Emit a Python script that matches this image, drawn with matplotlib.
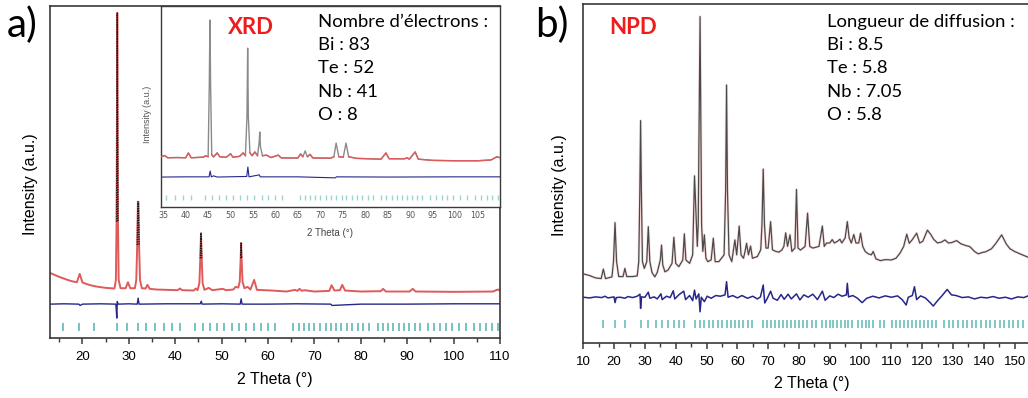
import matplotlib.pyplot as plt
import numpy as np

W, H = 1028, 398


def fx(px):
    return px / W


def fy(py):
    return 1 - py / H


# ---------------- panel a : XRD refinement ----------------
# observed / calculated profile (2theta, intensity a.u.)
xrd_tth = [13.0, 14.0, 15.0, 16.0, 17.0, 18.0, 18.8, 19.4, 20.0, 21.0, 22.0, 23.0,
           24.0, 25.0, 26.0, 26.9, 27.2, 27.35, 27.45, 27.5, 27.55, 27.65, 27.8,
           28.2, 29.3, 29.8, 30.3, 31.3, 31.6, 31.8, 31.95, 32.05, 32.2, 32.4,
           32.8, 33.6, 34.0, 34.5, 36.0, 40.5, 41.0, 41.5, 44.0, 44.4, 44.8,
           45.2, 45.4, 45.55, 45.7, 45.9, 46.3, 47.2, 48.0, 50.2, 51.0, 52.5,
           53.0, 53.6, 53.9, 54.1, 54.2, 54.3, 54.5, 54.9, 55.6, 56.2, 57.0,
           57.6, 60.8, 64.0, 65.8, 66.3, 66.8, 67.3, 67.8, 70.0, 73.2, 73.7,
           74.3, 75.5, 76.0, 76.6, 80.0, 84.3, 84.8, 85.4, 90.5, 91.2, 91.8,
           100.0, 108.5, 109.5, 110.0]
xrd_int = [19.6, 19.0, 18.4, 17.9, 17.4, 17.0, 16.8, 19.3, 16.7, 16.2, 15.8, 15.5,
           15.3, 15.1, 15.0, 14.9, 17.5, 35.0, 75.0, 97.9, 75.0, 35.0, 17.5,
           15.0, 15.0, 16.8, 15.0, 15.0, 17.5, 28.0, 41.0, 41.0, 28.0, 17.5,
           15.0, 14.9, 16.0, 14.8, 14.6, 14.4, 14.9, 14.4, 14.3, 14.9, 14.4,
           16.5, 24.0, 31.6, 24.0, 16.5, 14.5, 15.1, 14.4, 14.8, 14.4, 14.6,
           15.4, 15.2, 17.0, 24.0, 28.6, 24.0, 17.0, 15.0, 15.4, 14.6, 17.5,
           14.5, 14.3, 14.0, 14.5, 14.2, 14.8, 14.2, 14.4, 14.0, 14.2, 15.9,
           14.3, 14.4, 16.0, 14.3, 14.0, 14.1, 14.8, 14.0, 14.0, 14.8, 14.0,
           13.9, 14.0, 14.6, 14.3]
# difference curve
xrd_diff_tth = [13.0, 16.0, 19.2, 19.5, 20.0, 24.0, 27.2, 27.4, 27.5, 27.7, 30.0,
                31.8, 32.0, 32.2, 38.0, 45.4, 45.6, 45.8, 50.0, 54.0, 54.2, 54.4,
                60.0, 66.0, 73.5, 73.8, 80.0, 90.0, 100.0, 110.0]
xrd_diff = [10.2, 10.3, 10.2, 9.8, 10.2, 10.3, 10.2, 6.0, 11.0, 10.2, 10.3,
            10.2, 12.0, 10.2, 10.3, 10.3, 11.1, 10.2, 10.3, 10.2, 11.8, 10.2,
            10.2, 10.3, 10.2, 9.8, 10.2, 10.2, 10.3, 10.3]
# Bragg reflection positions
xrd_bragg = [15.7, 19.3, 22.4, 27.4, 29.7, 31.9, 33.8, 35.7, 37.6, 39.4, 41.1,
             44.3, 45.9, 47.5, 49.0, 50.6, 52.2, 53.7, 55.3, 56.9, 58.4, 60.0, 61.5,
             65.4, 66.6, 67.7, 68.9, 70.0, 71.2, 72.4, 73.5, 74.7, 75.8, 77.0, 78.2,
             79.3, 80.5, 81.7, 83.6, 84.7, 85.9, 87.0, 88.2, 89.3, 90.4, 91.6, 92.7,
             94.4, 95.7, 97.0, 98.3, 99.6, 101.2, 102.6, 104.4, 105.7, 107.0, 108.3,
             109.6]

# inset (zoom 35-110)
ins_tth = [34.5, 35.3, 36.0, 38.0, 40.0, 40.6, 41.2, 44.0, 44.4, 45.0, 45.25,
           45.4, 45.55, 45.8, 46.2, 47.0, 47.6, 49.0, 50.0, 50.5, 52.0, 52.8,
           53.3, 53.65, 53.8, 53.95, 54.3, 54.8, 55.4, 56.0, 56.35, 56.5, 56.65,
           57.1, 58.0, 59.0, 60.6, 61.3, 65.0, 65.6, 66.1, 66.6, 67.1, 67.7,
           68.3, 72.3, 73.0, 73.5, 74.1, 75.1, 75.7, 76.3, 78.0, 83.5, 84.6,
           85.3, 88.8, 89.3, 89.8, 91.1, 91.8, 95.0, 100.0, 105.0, 108.0, 109.3,
           110.0]
ins_int = [25.0, 25.6, 24.5, 24.6, 24.5, 26.9, 24.5, 24.8, 25.5, 25.0, 60.0,
           93.0, 60.0, 26.0, 24.9, 26.9, 25.0, 24.7, 26.5, 24.8, 25.2, 26.9,
           25.5, 45.0, 79.0, 45.0, 27.0, 25.5, 27.4, 25.5, 32.0, 37.3, 30.0,
           25.5, 25.8, 24.6, 25.8, 24.4, 24.4, 26.4, 25.0, 27.9, 25.0, 26.2,
           24.4, 24.3, 25.0, 31.8, 25.0, 24.8, 31.8, 25.0, 24.2, 23.8, 26.9,
           24.0, 24.0, 24.5, 23.8, 27.4, 23.8, 23.2, 23.0, 23.0, 23.4, 25.0,
           24.5]
ins_diff_tth = [34.5, 40.0, 45.2, 45.45, 45.7, 46.2, 47.0, 53.6, 53.85, 54.1,
                56.4, 56.6, 65.0, 73.3, 73.6, 85.0, 100.0, 110.0]
ins_diff = [14.9, 15.0, 15.0, 17.9, 15.0, 15.5, 14.9, 15.2, 19.9, 15.0,
            16.0, 15.0, 15.0, 14.5, 15.0, 14.9, 15.0, 15.0]

xrd_elements = ["Bi", "Te", "Nb", "O"]
xrd_electrons = ["83", "52", "41", "8"]

# ---------------- panel b : NPD refinement ----------------
npd_tth = [10.0, 12.0, 14.0, 15.8, 16.5, 17.2, 19.3, 19.8, 20.3, 20.8, 21.5,
           22.9, 23.5, 24.1, 26.0, 27.5, 28.0, 28.35, 28.6, 28.85, 29.2, 29.8,
           30.6, 31.1, 31.6, 32.3, 33.2, 34.0, 35.0, 35.4, 35.8, 36.5, 37.5,
           38.8, 39.4, 40.0, 41.0, 42.3, 42.8, 43.3, 44.5, 45.5, 46.1, 47.0,
           47.3, 47.9, 48.4, 48.8, 49.3, 49.8, 50.4, 51.5, 52.2, 52.8, 54.0,
           55.7, 56.2, 56.5, 56.8, 57.3, 58.2, 59.2, 59.8, 60.6, 61.2, 62.0,
           62.5, 63.0, 63.6, 64.3, 64.9, 66.5, 67.6, 68.0, 68.4, 68.8, 69.3,
           70.0, 70.8, 71.4, 72.5, 73.5, 74.5, 75.1, 75.7, 76.3, 77.1, 77.7,
           78.7, 79.2, 79.7, 80.5, 82.0, 82.8, 83.5, 84.5, 86.5, 87.6, 88.2,
           89.0, 90.0, 90.8, 91.5, 92.5, 93.3, 93.9, 95.0, 95.7, 96.3, 97.0,
           97.8, 98.5, 99.4, 100.0, 100.7, 101.5, 102.5, 103.5, 104.1, 105.0,
           106.5, 108.0, 110.0, 111.5, 112.8, 114.0, 115.0, 115.8, 116.8, 118.2,
           119.2, 120.2, 121.7, 122.8, 123.8, 125.0, 126.3, 127.4, 128.5, 129.5,
           131.2, 132.5, 134.0, 135.5, 137.0, 138.2, 139.5, 140.6, 142.5, 144.0,
           145.8, 147.3, 148.5, 150.0, 152.0, 154.4]
npd_int = [20.4, 19.9, 19.2, 19.0, 21.8, 19.0, 19.5, 24.0, 35.5, 24.0, 19.6,
           19.6, 22.0, 19.6, 19.6, 19.8, 24.0, 45.0, 65.6, 45.0, 24.0, 22.0,
           24.0, 34.3, 24.0, 20.8, 19.5, 20.8, 24.5, 28.9, 23.0, 21.0, 21.5,
           23.5, 31.2, 23.5, 22.5, 24.5, 32.2, 24.5, 23.5, 26.0, 49.3, 28.5,
           35.0, 96.3, 35.0, 27.0, 31.9, 25.0, 24.0, 24.5, 30.9, 24.0, 24.0,
           26.0, 45.0, 76.1, 45.0, 26.0, 24.0, 30.4, 26.0, 34.5, 26.0, 25.0,
           27.0, 29.4, 26.0, 28.6, 25.0, 25.5, 27.5, 35.0, 51.3, 35.0, 28.0,
           28.0, 35.8, 27.5, 27.0, 26.8, 27.5, 28.5, 32.5, 28.5, 31.9, 27.0,
           28.0, 45.3, 28.0, 27.4, 28.5, 38.3, 28.5, 28.0, 28.5, 34.5, 28.5,
           29.5, 29.5, 30.5, 29.5, 30.0, 30.6, 29.5, 31.0, 35.8, 31.0, 29.5,
           32.0, 29.5, 29.5, 32.4, 28.5, 27.0, 26.3, 26.0, 27.0, 24.8,
           24.3, 24.6, 24.5, 25.0, 26.5, 28.5, 32.1, 29.4, 30.5, 32.4,
           29.5, 30.0, 33.3, 32.0, 30.5, 29.5, 29.8, 30.4, 29.5, 29.6,
           30.2, 29.3, 28.8, 28.4, 27.0, 26.3, 26.7, 26.9, 27.8, 29.5,
           31.9, 29.2, 27.8, 27.0, 26.2, 25.3]
npd_diff_tth = [10, 12, 14, 16, 17, 18, 20.0, 20.3, 20.7, 22, 23.5, 24.5, 26,
                27.5, 28.4, 28.6, 28.9, 30, 31.1, 31.6, 33, 34, 35.2, 35.6, 37,
                38.2, 39.2, 39.7, 41, 42.6, 43.2, 44.5, 45.5, 46.1, 46.6, 47.5,
                47.9, 48.3, 49.3, 50.2, 51.5, 53, 54.5, 56.0, 56.5, 57.0, 58.5,
                60, 61.5, 63.3, 65, 66.5, 67.5, 68.4, 68.9, 69.8, 70.8, 71.6, 73,
                74.2, 75.2, 76.5, 77.5, 79.2, 80.3, 81.6, 83, 84.5, 86, 87.6, 88.5,
                90, 91.3, 92.7, 94, 95.4, 95.7, 96.1, 97.5, 99, 100.5, 102, 104,
                106, 108, 110, 112, 113.5, 114.8, 115.5, 116.8, 117.5, 118.2, 119.5,
                121, 122.5, 123.6, 125, 126.5, 128.1, 129.5, 131, 133, 135, 137,
                139, 141, 143, 145, 147, 149, 151, 153, 154.4]
npd_diff = [13.5, 13.3, 13.6, 13.4, 13.8, 13.3, 13.6, 11.9, 13.4, 13.5, 13.2, 13.7, 13.4,
            13.8, 14.4, 10.2, 13.6, 13.5, 15.0, 13.2, 13.6, 13.0, 14.5, 12.8, 13.8,
            13.4, 15.4, 13.0, 14.2, 15.3, 12.8, 14.0, 12.5, 15.6, 13.0, 14.5,
            9.2, 13.5, 12.2, 13.8, 13.2, 14.0, 13.8, 14.2, 18.1, 13.5, 14.0,
            13.3, 14.0, 13.2, 13.8, 13.0, 13.6, 17.1, 11.8, 13.3, 15.3, 13.2, 12.6,
            14.3, 12.9, 14.4, 13.0, 14.5, 12.7, 14.2, 13.5, 14.4, 12.8, 15.3, 12.6,
            13.9, 13.4, 14.4, 13.8, 14.2, 17.6, 13.6, 14.0, 13.2, 11.9, 13.2, 13.8,
            13.3, 13.9, 13.5, 13.9, 12.8, 11.2, 13.5, 14.0, 16.6, 12.8, 13.9,
            13.3, 12.0, 10.9, 12.5, 14.0, 15.8, 14.2, 14.0, 13.4, 13.6, 13.0,
            13.5, 13.3, 13.7, 13.2, 13.5, 13.0, 13.6, 13.4, 13.9]
npd_bragg = [16.5, 20.3, 23.5, 28.6, 31.1, 33.5, 35.4, 37.4, 39.4, 41.2, 42.8,
             46.1, 47.9, 49.3, 50.7, 52.2, 53.6, 55.1, 56.5, 57.9, 59.2, 60.6, 61.9,
             63.3, 64.7, 68.4, 69.7, 71.0, 72.3, 73.6, 74.9, 76.2, 77.5, 78.8, 80.1,
             81.4, 82.7, 84.1, 85.5, 87.6, 88.8, 90.0, 91.2, 92.4, 93.6, 94.8, 96.0,
             97.2, 99.3, 100.5, 101.7, 102.9, 104.1, 106.2, 107.6, 110.1, 111.4,
             112.8, 114.1, 115.4, 116.7, 118.0, 119.4, 120.7, 122.0, 123.3, 124.6,
             127.1, 128.6, 130.1, 131.6, 133.1, 134.6, 136.1, 137.6, 139.1, 140.6,
             142.1, 143.6, 145.1, 146.6, 148.1, 149.6, 151.1, 152.6]

npd_elements = ["Bi", "Te", "Nb", "O"]
npd_lengths = ["8.5", "5.8", "7.05", "5.8"]

RED = '#e05a5a'
BLUE = '#27278a'
TEAL = '#5fb8b4'
SPINE = '#3a3a3a'
AXFONT = 'Liberation Sans'
TXTFONT = 'Lato'

fig = plt.figure(figsize=(W / 100, H / 100), dpi=100)


def style_axis(ax, xmax, ticks):
    ax.set_yticks([])
    ax.set_xticks(ticks)
    ax.set_xticks(np.arange(15, xmax, 10), minor=True)
    ax.tick_params(axis='x', which='major', direction='out', length=4.5, width=1.1,
                   labelsize=9.5, pad=5, color=SPINE)
    ax.tick_params(axis='x', which='minor', direction='out', length=3, width=1.0,
                   color=SPINE)
    for lab in ax.get_xticklabels():
        lab.set_fontfamily(AXFONT)
    for sp in ax.spines.values():
        sp.set_color(SPINE)
        sp.set_linewidth(1.2)


# ---- panel a main ----
ax_a = fig.add_axes([fx(50), fy(338), fx(500) - fx(50), fy(6) - fy(338)])
ax_a.plot(xrd_tth, xrd_int, color=RED, lw=1.4, zorder=2)
obs_a = np.ma.masked_less(np.array(xrd_int), 21)
ax_a.plot(xrd_tth, obs_a, color='#1a1a1a', lw=1.0, ls=(0, (1, 0.7)), zorder=3)
ax_a.plot(xrd_diff_tth, xrd_diff, color=BLUE, lw=1.0)
ax_a.vlines(xrd_bragg, 2.1, 4.5, color=TEAL, lw=1.2)
ax_a.set_xlim(13, 110)
ax_a.set_ylim(0, 100)
style_axis(ax_a, 110, np.arange(20, 111, 10))
ax_a.set_xlabel('2 Theta (°)', fontsize=11.5, family=AXFONT)
ax_a.xaxis.set_label_coords(fx(275), fy(372), transform=fig.transFigure)
ax_a.set_ylabel('Intensity (a.u.)', fontsize=11.5, family=AXFONT)
ax_a.yaxis.set_label_coords(fx(38), fy(184), transform=fig.transFigure)

# ---- panel a inset ----
ax_i = fig.add_axes([fx(161), fy(207), fx(500) - fx(161), fy(6) - fy(207)])
ax_i.plot(ins_tth, ins_int, color='#8a8a8a', lw=1.0, zorder=2)
calc_i = np.ma.masked_greater(np.array(ins_int), 27.5)
ax_i.plot(ins_tth, calc_i, color=RED, lw=1.0, zorder=3)
ax_i.plot(ins_diff_tth, ins_diff, color=BLUE, lw=0.8)
ins_bragg = [t for t in xrd_bragg if t >= 34.5]
ax_i.vlines(ins_bragg, 3.5, 6.0, color='#9fd3d0', lw=1.0)
ax_i.set_xlim(34.5, 110)
ax_i.set_ylim(0, 100)
ax_i.set_yticks([])
ax_i.set_xticks(np.arange(35, 106, 5))
ax_i.tick_params(axis='x', length=0, labelsize=5.8, pad=3, labelcolor='#555555')
for sp in ax_i.spines.values():
    sp.set_color(SPINE)
    sp.set_linewidth(1.0)
ax_i.set_xlabel('2 Theta (°)', fontsize=7, color='#444444', family=AXFONT)
ax_i.xaxis.set_label_coords(fx(330), fy(228), transform=fig.transFigure)
ax_i.set_ylabel('Intensity (a.u.)', fontsize=6.5, color='#555555', family=AXFONT)
ax_i.yaxis.set_label_coords(fx(152), fy(114), transform=fig.transFigure)

# ---- panel b ----
ax_b = fig.add_axes([fx(583.3), fy(343), 1 - fx(583.3), fy(4) - fy(343)])
ax_b.plot(npd_tth, npd_int, color='#f29a9a', lw=2.0, alpha=0.3, zorder=2)
ax_b.plot(npd_tth, npd_int, color='#4a4a4a', lw=0.9, zorder=3)
ax_b.plot(npd_diff_tth, npd_diff, color=BLUE, lw=1.1)
ax_b.vlines(npd_bragg, 4.3, 6.8, color=TEAL, lw=1.1)
ax_b.set_xlim(10, 154.35)
ax_b.set_ylim(0, 100)
style_axis(ax_b, 155, np.arange(10, 151, 10))
ax_b.spines['right'].set_visible(False)
ax_b.set_xlabel('2 Theta (°)', fontsize=11.5, family=AXFONT)
ax_b.xaxis.set_label_coords(fx(812), fy(376), transform=fig.transFigure)
ax_b.set_ylabel('Intensity (a.u.)', fontsize=11.5, family=AXFONT)
ax_b.yaxis.set_label_coords(fx(567), fy(185), transform=fig.transFigure)

# ---- text annotations ----
fig.text(fx(7), fy(25), 'a)', fontsize=29, family=TXTFONT, va='center', ha='left')
fig.text(fx(535), fy(25), 'b)', fontsize=29, family=TXTFONT, va='center', ha='left')
fig.text(fx(228), fy(28), 'XRD', fontsize=16, fontweight='bold', color='#ee1c1c',
         family=TXTFONT, va='center', ha='left')
fig.text(fx(609), fy(28), 'NPD', fontsize=16, fontweight='bold', color='#ee1c1c',
         family=TXTFONT, va='center', ha='left')

line_y = [45, 68, 92, 115]
fig.text(fx(318), fy(22), 'Nombre d’électrons :', fontsize=13.3, family=TXTFONT,
         va='center', ha='left')
for el, val, yy in zip(xrd_elements, xrd_electrons, line_y):
    fig.text(fx(318), fy(yy), f'{el} : {val}', fontsize=13.3, family=TXTFONT,
             va='center', ha='left')
fig.text(fx(827), fy(22), 'Longueur de diffusion :', fontsize=13.3, family=TXTFONT,
         va='center', ha='left')
for el, val, yy in zip(npd_elements, npd_lengths, line_y):
    fig.text(fx(827), fy(yy), f'{el} : {val}', fontsize=13.3, family=TXTFONT,
             va='center', ha='left')

fig.savefig('out.png', dpi=100, facecolor='white')
